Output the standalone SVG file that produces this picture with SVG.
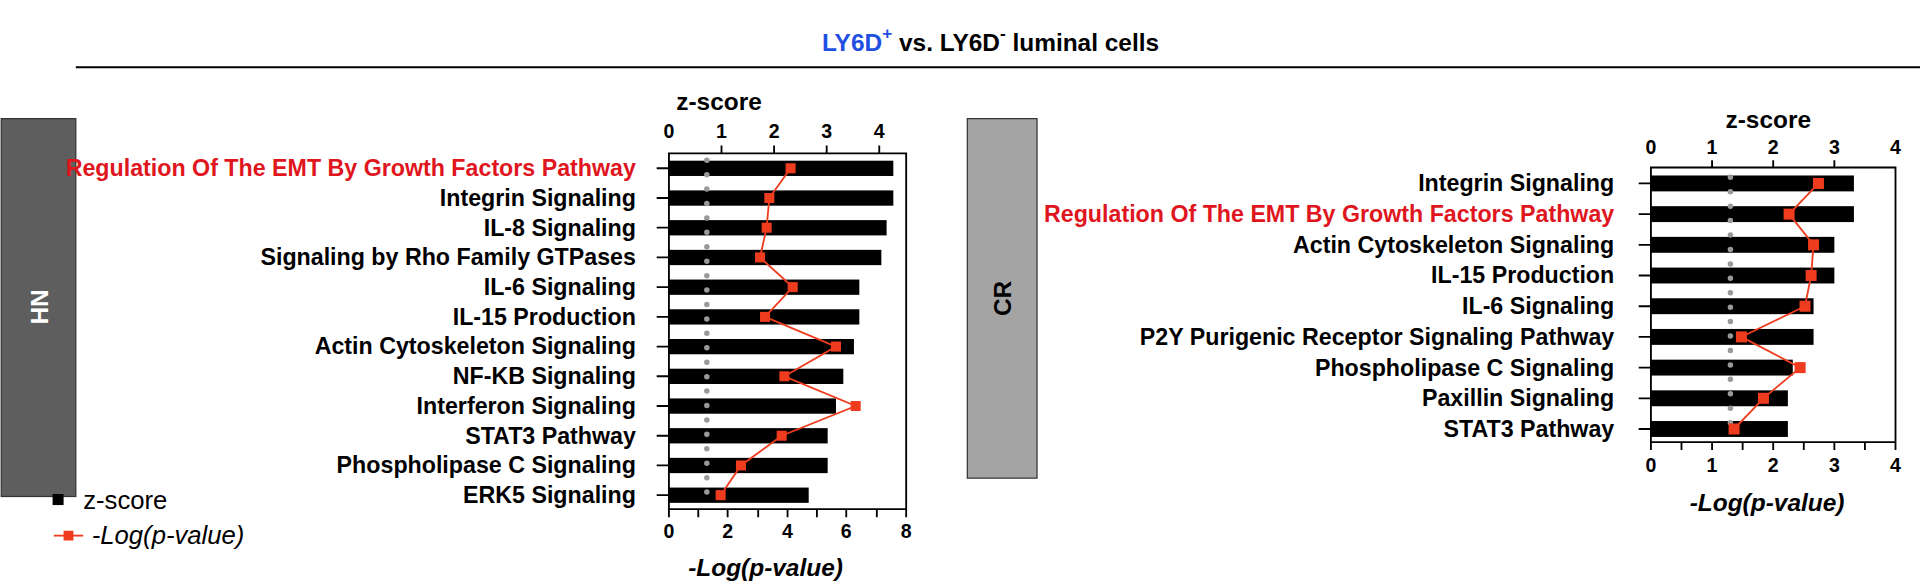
<svg xmlns="http://www.w3.org/2000/svg" width="1920" height="586" viewBox="0 0 1920 586">
<style>
text{font-family:"Liberation Sans",Arial,sans-serif;fill:#000}
.lab{font-size:19px;font-weight:bold;text-anchor:end}
.red{fill:#e0161e}
.tick{font-size:16px;font-weight:bold;text-anchor:middle}
.ax{stroke:#000;stroke-width:1.5;fill:none}
.bar{fill:#000}
.dots{stroke:#999;stroke-width:4.5;stroke-linecap:round;stroke-dasharray:0 11.8}
.pl{stroke:#f03c1e;stroke-width:1.5;fill:none}
.pt{fill:#f03c1e}
.ttl{font-size:20px;font-weight:bold;text-anchor:middle}
</style>
<g transform="scale(1.2229)">
<text x="810" y="42" class="ttl" font-size="25"><tspan style="fill:#1f4fe0">LY6D<tspan font-size="14" dy="-10">+</tspan></tspan><tspan dy="10"> vs. LY6D</tspan><tspan font-size="14" dy="-10">-</tspan><tspan dy="10"> luminal cells</tspan></text>
<line x1="62" y1="55" x2="1858" y2="55" stroke="#000" stroke-width="1.5"/>
<g id="hn-box"><rect x="1" y="97" width="61" height="309" fill="#5e5e5e" stroke="#333"/><text transform="translate(31,251) rotate(-90)" class="ttl" font-size="23" style="fill:#fff" dy="8">HN</text></g>
<g id="cr-box"><rect x="791" y="97" width="57" height="294" fill="#a4a4a4" stroke="#333"/><text transform="translate(819,244) rotate(-90)" class="ttl" font-size="23" dy="8">CR</text></g>
<g id="legend">
<rect x="43" y="404" width="9" height="9" fill="#000"/><text x="68" y="416" font-size="21">z-score</text>
<line x1="44" y1="438" x2="68" y2="438" class="pl"/><rect x="52" y="434" width="8" height="8" class="pt"/><text x="75" y="445" font-size="21" font-style="italic">-Log(p-value)</text>
</g>
<g id="hn-chart">
<text x="588" y="90" class="ttl" font-size="23">z-score</text>
<g class="tick"><text x="547" y="113">0</text><text x="590" y="113">1</text><text x="633" y="113">2</text><text x="676" y="113">3</text><text x="719" y="113">4</text>
<text x="547" y="440">0</text><text x="595" y="440">2</text><text x="644" y="440">4</text><text x="692" y="440">6</text><text x="741" y="440">8</text></g>
<path class="ax" d="M547 125.4H741V416.3H547ZM590 125.4V119M633 125.4V119M676 125.4V119M719 125.4V119M547 416.3V423M571 416.3V423M595 416.3V423M620 416.3V423M644 416.3V423M668 416.3V423M692 416.3V423M717 416.3V423M741 416.3V423"/>
<path class="ax" d="M537 137.6H547M537 161.9H547M537 186.2H547M537 210.5H547M537 234.8H547M537 259.1H547M537 283.4H547M537 307.7H547M537 332H547M537 356.3H547M537 380.6H547M537 404.9H547"/>
<g class="bar"><rect x="547" y="131.4" width="183.5" height="12.5"/><rect x="547" y="155.7" width="183.5" height="12.5"/><rect x="547" y="180" width="178" height="12.5"/><rect x="547" y="204.3" width="173.7" height="12.5"/><rect x="547" y="228.6" width="155.7" height="12.5"/><rect x="547" y="252.9" width="155.7" height="12.5"/><rect x="547" y="277.2" width="151.3" height="12.5"/><rect x="547" y="301.5" width="142.6" height="12.5"/><rect x="547" y="325.8" width="136.6" height="12.5"/><rect x="547" y="350.1" width="129.8" height="12.5"/><rect x="547" y="374.4" width="129.8" height="12.5"/><rect x="547" y="398.7" width="114.3" height="12.5"/></g>
<line x1="578" y1="131" x2="578" y2="413" class="dots"/>
<polyline class="pl" points="646.5,137.6 629.1,161.9 626.9,186.2 621.5,210.5 648.2,234.8 625.6,259.1 683.6,283.4 641.4,307.7 699.7,332 639.2,356.3 605.9,380.6 589.3,404.9"/>
<g class="pt"><rect x="642.4" y="133.5" width="8.2" height="8.2"/><rect x="625" y="157.8" width="8.2" height="8.2"/><rect x="622.8" y="182.1" width="8.2" height="8.2"/><rect x="617.4" y="206.4" width="8.2" height="8.2"/><rect x="644.1" y="230.7" width="8.2" height="8.2"/><rect x="621.5" y="255" width="8.2" height="8.2"/><rect x="679.5" y="279.3" width="8.2" height="8.2"/><rect x="637.3" y="303.6" width="8.2" height="8.2"/><rect x="695.6" y="327.9" width="8.2" height="8.2"/><rect x="635.1" y="352.2" width="8.2" height="8.2"/><rect x="601.8" y="376.5" width="8.2" height="8.2"/><rect x="585.2" y="400.8" width="8.2" height="8.2"/></g>
<g class="lab"><text x="520" y="144" class="red">Regulation Of The EMT By Growth Factors Pathway</text><text x="520" y="168.3">Integrin Signaling</text><text x="520" y="192.6">IL-8 Signaling</text><text x="520" y="216.9">Signaling by Rho Family GTPases</text><text x="520" y="241.2">IL-6 Signaling</text><text x="520" y="265.5">IL-15 Production</text><text x="520" y="289.8">Actin Cytoskeleton Signaling</text><text x="520" y="314.1">NF-KB Signaling</text><text x="520" y="338.4">Interferon Signaling</text><text x="520" y="362.7">STAT3 Pathway</text><text x="520" y="387">Phospholipase C Signaling</text><text x="520" y="411.3">ERK5 Signaling</text></g>
<text x="626" y="471" class="ttl" font-size="25" font-style="italic">-Log(p-value)</text>
</g>
<g id="cr-chart">
<text x="1446" y="105" class="ttl" font-size="23">z-score</text>
<g class="tick"><text x="1350" y="126">0</text><text x="1400" y="126">1</text><text x="1450" y="126">2</text><text x="1500" y="126">3</text><text x="1550" y="126">4</text>
<text x="1350" y="386">0</text><text x="1400" y="386">1</text><text x="1450" y="386">2</text><text x="1500" y="386">3</text><text x="1550" y="386">4</text></g>
<path class="ax" d="M1350 137H1550V361.5H1350ZM1400 137V131M1450 137V131M1500 137V131M1350 361.5V368M1375 361.5V368M1400 361.5V368M1425 361.5V368M1450 361.5V368M1475 361.5V368M1500 361.5V368M1525 361.5V368M1550 361.5V368"/>
<path class="ax" d="M1340 150H1350M1340 175.1H1350M1340 200.2H1350M1340 225.3H1350M1340 250.4H1350M1340 275.5H1350M1340 300.6H1350M1340 325.7H1350M1340 350.8H1350"/>
<g class="bar"><rect x="1350" y="143.5" width="166" height="13"/><rect x="1350" y="168.6" width="166" height="13"/><rect x="1350" y="193.7" width="150" height="13"/><rect x="1350" y="218.8" width="150" height="13"/><rect x="1350" y="243.9" width="133" height="13"/><rect x="1350" y="269" width="133" height="13"/><rect x="1350" y="294.1" width="116" height="13"/><rect x="1350" y="319.2" width="112" height="13"/><rect x="1350" y="344.3" width="112" height="13"/></g>
<line x1="1415" y1="145" x2="1415" y2="357" class="dots"/>
<polyline class="pl" points="1487,150 1463,175.1 1483,200.2 1481,225.3 1476,250.4 1424,275.5 1472,300.6 1442,325.7 1418,350.8"/>
<g class="pt"><rect x="1482.5" y="145.5" width="9" height="9"/><rect x="1458.5" y="170.6" width="9" height="9"/><rect x="1478.5" y="195.7" width="9" height="9"/><rect x="1476.5" y="220.8" width="9" height="9"/><rect x="1471.5" y="245.9" width="9" height="9"/><rect x="1419.5" y="271" width="9" height="9"/><rect x="1467.5" y="296.1" width="9" height="9"/><rect x="1437.5" y="321.2" width="9" height="9"/><rect x="1413.5" y="346.3" width="9" height="9"/></g>
<g class="lab"><text x="1320" y="156.5">Integrin Signaling</text><text x="1320" y="181.6" class="red">Regulation Of The EMT By Growth Factors Pathway</text><text x="1320" y="206.7">Actin Cytoskeleton Signaling</text><text x="1320" y="231.8">IL-15 Production</text><text x="1320" y="256.9">IL-6 Signaling</text><text x="1320" y="282">P2Y Purigenic Receptor Signaling Pathway</text><text x="1320" y="307.1">Phospholipase C Signaling</text><text x="1320" y="332.2">Paxillin Signaling</text><text x="1320" y="357.3">STAT3 Pathway</text></g>
<text x="1445" y="418" class="ttl" font-size="25" font-style="italic">-Log(p-value)</text>
</g>
</g>
</svg>
